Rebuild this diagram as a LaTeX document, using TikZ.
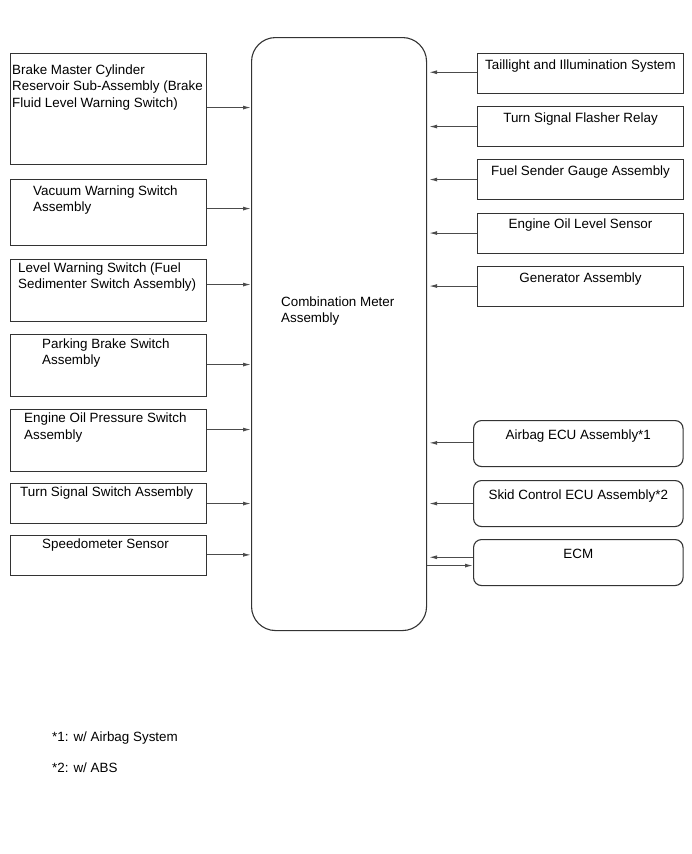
\documentclass[tikz,border=0pt]{standalone}
\usepackage{fontspec}
\setmainfont{Liberation Sans}
\usetikzlibrary{arrows.meta,calc}
\begin{document}
\begin{tikzpicture}[x=1pt,y=-1pt, font=\fontsize{13.4}{16.5}\selectfont,
  box/.style={draw=black!80, line width=1.1pt, inner sep=0pt, anchor=north west},
  rbox/.style={box, rounded corners=8pt},
  txt/.style={inner sep=0pt, anchor=base west},
  ctxt/.style={inner sep=0pt, anchor=base},
  arr/.style={draw=black!70, line width=1.1pt, -{Latex[length=8pt,width=4pt]}}]
\useasboundingbox (0,0) rectangle (691,854);

% main box
\node[box, rounded corners=24pt, minimum width=175pt, minimum height=593pt] (M) at (251,37) {};
\node[txt] (mt1) at (281,306) {Combination Meter};
\node[txt] (mt2) at (281,322.5) {Assembly};

% left boxes
\node[box, minimum width=196pt, minimum height=111pt] (L1) at (10,53) {};
\node[box, minimum width=196pt, minimum height=66pt] (L2) at (10,179) {};
\node[box, minimum width=196pt, minimum height=62pt] (L3) at (10,259) {};
\node[box, minimum width=196pt, minimum height=62pt] (L4) at (10,334) {};
\node[box, minimum width=196pt, minimum height=62pt] (L5) at (10,409) {};
\node[box, minimum width=196pt, minimum height=40pt] (L6) at (10,483) {};
\node[box, minimum width=196pt, minimum height=40pt] (L7) at (10,535) {};

\node[txt] (l1a) at (12,74) {Brake Master Cylinder};
\node[txt] (l1b) at (12,90.5) {Reservoir Sub-Assembly (Brake};
\node[txt] (l1c) at (12,107) {Fluid Level Warning Switch)};
\node[txt] (l2a) at (33,195) {Vacuum Warning Switch};
\node[txt] (l2b) at (33,211.5) {Assembly};
\node[txt] (l3a) at (18,272) {Level Warning Switch (Fuel};
\node[txt] (l3b) at (18,288.5) {Sedimenter Switch Assembly)};
\node[txt] (l4a) at (42,348) {Parking Brake Switch};
\node[txt] (l4b) at (42,364.5) {Assembly};
\node[txt] (l5a) at (24,422.5) {Engine Oil Pressure Switch};
\node[txt] (l5b) at (24,439) {Assembly};
\node[txt] (l6a) at (20,496.5) {Turn Signal Switch Assembly};
\node[txt] (l7a) at (42,548) {Speedometer Sensor};

% right boxes
\node[box, minimum width=206pt, minimum height=40pt] (R1) at (477,53) {};
\node[box, minimum width=206pt, minimum height=40pt] (R2) at (477,106) {};
\node[box, minimum width=206pt, minimum height=40pt] (R3) at (477,159) {};
\node[box, minimum width=206pt, minimum height=40pt] (R4) at (477,212.5) {};
\node[box, minimum width=206pt, minimum height=40pt] (R5) at (477,266) {};
\node[rbox, minimum width=209.5pt, minimum height=46pt] (R6) at (473,420) {};
\node[rbox, minimum width=209.5pt, minimum height=46pt] (R7) at (473,480) {};
\node[rbox, minimum width=209.5pt, minimum height=46pt] (R8) at (473,539) {};

\node[ctxt] (r1t) at ($(R1.north)+(0,16)$) {Taillight and Illumination System};
\node[ctxt] (r2t) at ($(R2.north)+(0,16)$) {Turn Signal Flasher Relay};
\node[ctxt] (r3t) at ($(R3.north)+(0,16)$) {Fuel Sender Gauge Assembly};
\node[ctxt] (r4t) at ($(R4.north)+(0,16)$) {Engine Oil Level Sensor};
\node[ctxt] (r5t) at ($(R5.north)+(0,16)$) {Generator Assembly};
\node[ctxt] (r6t) at ($(R6.north)+(0,19)$) {Airbag ECU Assembly*1};
\node[ctxt] (r7t) at ($(R7.north)+(0,19)$) {Skid Control ECU Assembly*2};
\node[ctxt] (r8t) at ($(R8.north)+(0,19)$) {ECM};

% left connectors
\draw[arr] ($(L1.east)+(0,-1.5)$) -- ($(L1.east -| M.west)+(0,-1.5)$);
\draw[arr] ($(L2.east)+(0,-4)$) -- ($(L2.east -| M.west)+(0,-4)$);
\draw[arr] ($(L3.east)+(0,-6)$) -- ($(L3.east -| M.west)+(0,-6)$);
\draw[arr] ($(L4.east)+(0,-1)$) -- ($(L4.east -| M.west)+(0,-1)$);
\draw[arr] ($(L5.east)+(0,-11)$) -- ($(L5.east -| M.west)+(0,-11)$);
\draw[arr] (L6.east) -- (L6.east -| M.west);
\draw[arr] ($(L7.east)+(0,-0.7)$) -- ($(L7.east -| M.west)+(0,-0.7)$);

% right connectors
\draw[arr] ($(R1.west)+(0,-1.3)$) -- ($(R1.west -| M.east)+(2,-1.3)$);
\draw[arr] (R2.west) -- ($(R2.west -| M.east)+(2,0)$);
\draw[arr] (R3.west) -- ($(R3.west -| M.east)+(2,0)$);
\draw[arr] (R4.west) -- ($(R4.west -| M.east)+(2,0)$);
\draw[arr] ($(R5.west)+(0,-0.5)$) -- ($(R5.west -| M.east)+(2,-0.5)$);
\draw[arr] ($(R6.west)+(0,-0.7)$) -- ($(R6.west -| M.east)+(2,-0.7)$);
\draw[arr] (R7.west) -- ($(R7.west -| M.east)+(2,0)$);
\draw[arr] ($(R8.west)+(0,-5.3)$) -- ($(R8.west -| M.east)+(2,-5.3)$);
\draw[arr] ($(R8.west -| M.east)+(0,3)$) -- ($(R8.west)+(0,3)$);

% footnotes
\node[txt] (f1) at (52,741.5) {*1: w/ Airbag System};
\node[txt] (f2) at (52,772) {*2: w/ ABS};
\end{tikzpicture}
\end{document}
